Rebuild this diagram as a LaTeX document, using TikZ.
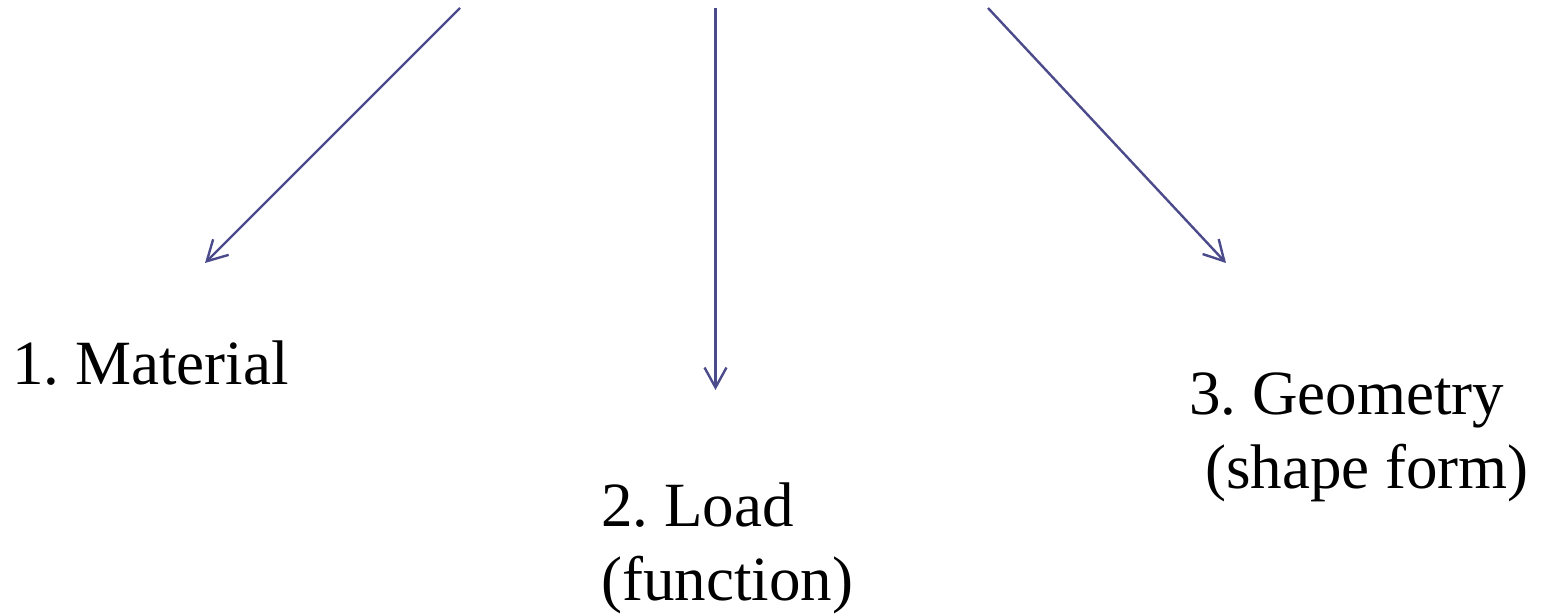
\documentclass[tikz,border=0pt]{standalone}
\usepackage{fontspec}
\setmainfont{Liberation Serif}
\usetikzlibrary{arrows.meta}
\definecolor{arrowblue}{RGB}{75,75,140}
\frenchspacing
\tikzset{
  link/.style={draw=arrowblue, line width=1.2pt,
    -{Straight Barb[length=10pt, width=11pt, line width=1.2pt]}},
  label/.style={anchor=base west, inner sep=0pt, align=left,
    font=\fontsize{31.5}{36.5}\selectfont},
}
\begin{document}
\begin{tikzpicture}[x=0.5pt, y=-0.5pt]
  \useasboundingbox (0,0) rectangle (1548,614);

  % arrow start points along the top edge
  \coordinate (s1) at (460,8);
  \coordinate (s2) at (715.5,8);
  \coordinate (s3) at (988,8);

  % arrow end points
  \coordinate (e1) at (205,263);
  \coordinate (e2) at (715.5,390);
  \coordinate (e3) at (1226,263);

  % the three factors (base anchor sits on the last line)
  \node[label] (mat) at (12,385) {1. Material};
  \node[label] (load) at (601,600) {2. Load\\(function)};
  \node[label] (geo) at (1189,488) {3. Geometry\\\hspace*{0.25em}(shape form)};

  \draw[link] (s1) -- (e1);
  \draw[link] (s2) -- (e2);
  \draw[link] (s3) -- (e3);
\end{tikzpicture}
\end{document}
